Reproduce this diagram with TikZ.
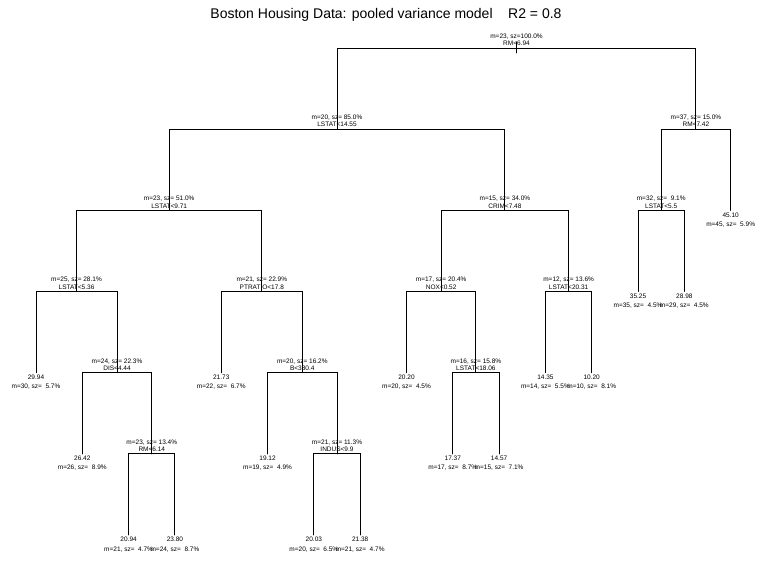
\documentclass[tikz,border=0pt]{standalone}
\usepackage{fontspec}
\setmainfont{Liberation Sans}
\usetikzlibrary{positioning}

\begin{document}
\begin{tikzpicture}[
    x=1pt, y=-1pt,
    branch/.style = {line width=0.9pt, line cap=round},
    split/.style = {anchor=south, inner sep=0pt, yshift=2pt, align=center,
                font=\fontsize{6.5}{7.3}\selectfont},
    leaf/.style = {anchor=north, inner sep=0pt, yshift=-2.2pt, align=center,
                font=\fontsize{6.5}{9.2}\selectfont}
                    ]
\useasboundingbox (0,0) rectangle (757,560);

\node (title) [anchor=base, font=\fontsize{14}{17}\selectfont] at (386,18)
    {Boston Housing Data: pooled variance model\ \ \ \ R2 = 0.8};

% split points
\coordinate (root) at (516.5,48);
\coordinate (lstat1455) at (337.0,129.17);
\coordinate (rm742) at (695.9,129.17);
\coordinate (lstat971) at (169.2,210.33);
\coordinate (crim748) at (504.9,210.33);
\coordinate (lstat55) at (661.2,210.33);
\coordinate (lstat536) at (76.52,291.5);
\coordinate (ptratio) at (261.8,291.5);
\coordinate (nox) at (441.2,291.5);
\coordinate (lstat2031) at (568.6,291.5);
\coordinate (dis) at (117.04,372.67);
\coordinate (b) at (302.3,372.67);
\coordinate (lstat1806) at (475.9,372.67);
\coordinate (rm614) at (151.78,453.83);
\coordinate (indus) at (337.0,453.83);

% leaves
\coordinate (leaf1) at (36.0,372.67);
\coordinate (leaf2) at (82.31,453.83);
\coordinate (leaf3) at (128.62,535);
\coordinate (leaf4) at (174.93,535);
\coordinate (leaf5) at (221.24,372.67);
\coordinate (leaf6) at (267.55,453.83);
\coordinate (leaf7) at (313.86,535);
\coordinate (leaf8) at (360.17,535);
\coordinate (leaf9) at (406.48,372.67);
\coordinate (leaf10) at (452.79,453.83);
\coordinate (leaf11) at (499.1,453.83);
\coordinate (leaf12) at (545.41,372.67);
\coordinate (leaf13) at (591.72,372.67);
\coordinate (leaf14) at (638.03,291.5);
\coordinate (leaf15) at (684.34,291.5);
\coordinate (leaf16) at (730.65,210.33);

% branches
\foreach \p/\c in {root/lstat1455, root/rm742,
        lstat1455/lstat971, lstat1455/crim748, rm742/lstat55, rm742/leaf16,
        lstat971/lstat536, lstat971/ptratio, crim748/nox, crim748/lstat2031,
        lstat55/leaf14, lstat55/leaf15,
        lstat536/leaf1, lstat536/dis, ptratio/leaf5, ptratio/b,
        nox/leaf9, nox/lstat1806, lstat2031/leaf12, lstat2031/leaf13,
        dis/leaf2, dis/rm614, b/leaf6, b/indus, lstat1806/leaf10, lstat1806/leaf11,
        rm614/leaf3, rm614/leaf4, indus/leaf7, indus/leaf8}
    \draw[branch] (\p) -| (\c);
\draw[branch] ([yshift=6pt]root) -- ([yshift=-5pt]root);

% split labels
\node (t-root) [split] at (root) {m=23, sz=100.0\%\\RM<6.94};
\node (t-lstat1455) [split] at (lstat1455) {m=20, sz= 85.0\%\\LSTAT<14.55};
\node (t-rm742) [split] at (rm742) {m=37, sz= 15.0\%\\RM<7.42};
\node (t-lstat971) [split] at (lstat971) {m=23, sz= 51.0\%\\LSTAT<9.71};
\node (t-crim748) [split] at (crim748) {m=15, sz= 34.0\%\\CRIM<7.48};
\node (t-lstat55) [split] at (lstat55) {m=32, sz=\ \ 9.1\%\\LSTAT<5.5};
\node (t-lstat536) [split] at (lstat536) {m=25, sz= 28.1\%\\LSTAT<5.36};
\node (t-ptratio) [split] at (ptratio) {m=21, sz= 22.9\%\\PTRATIO<17.8};
\node (t-nox) [split] at (nox) {m=17, sz= 20.4\%\\NOX<0.52};
\node (t-lstat2031) [split] at (lstat2031) {m=12, sz= 13.6\%\\LSTAT<20.31};
\node (t-dis) [split] at (dis) {m=24, sz= 22.3\%\\DIS<4.44};
\node (t-b) [split] at (b) {m=20, sz= 16.2\%\\B<380.4};
\node (t-lstat1806) [split] at (lstat1806) {m=16, sz= 15.8\%\\LSTAT<18.06};
\node (t-rm614) [split] at (rm614) {m=23, sz= 13.4\%\\RM<6.14};
\node (t-indus) [split] at (indus) {m=21, sz= 11.3\%\\INDUS<9.9};

% leaf labels
\node (t-leaf1) [leaf] at (leaf1) {29.94\\m=30, sz=\ \ 5.7\%};
\node (t-leaf2) [leaf] at (leaf2) {26.42\\m=26, sz=\ \ 8.9\%};
\node (t-leaf3) [leaf] at (leaf3) {20.94\\m=21, sz=\ \ 4.7\%};
\node (t-leaf4) [leaf] at (leaf4) {23.80\\m=24, sz=\ \ 8.7\%};
\node (t-leaf5) [leaf] at (leaf5) {21.73\\m=22, sz=\ \ 6.7\%};
\node (t-leaf6) [leaf] at (leaf6) {19.12\\m=19, sz=\ \ 4.9\%};
\node (t-leaf7) [leaf] at (leaf7) {20.03\\m=20, sz=\ \ 6.5\%};
\node (t-leaf8) [leaf] at (leaf8) {21.38\\m=21, sz=\ \ 4.7\%};
\node (t-leaf9) [leaf] at (leaf9) {20.20\\m=20, sz=\ \ 4.5\%};
\node (t-leaf10) [leaf] at (leaf10) {17.37\\m=17, sz=\ \ 8.7\%};
\node (t-leaf11) [leaf] at (leaf11) {14.57\\m=15, sz=\ \ 7.1\%};
\node (t-leaf12) [leaf] at (leaf12) {14.35\\m=14, sz=\ \ 5.5\%};
\node (t-leaf13) [leaf] at (leaf13) {10.20\\m=10, sz=\ \ 8.1\%};
\node (t-leaf14) [leaf] at (leaf14) {35.25\\m=35, sz=\ \ 4.5\%};
\node (t-leaf15) [leaf] at (leaf15) {28.98\\m=29, sz=\ \ 4.5\%};
\node (t-leaf16) [leaf] at (leaf16) {45.10\\m=45, sz=\ \ 5.9\%};

\end{tikzpicture}
\end{document}
